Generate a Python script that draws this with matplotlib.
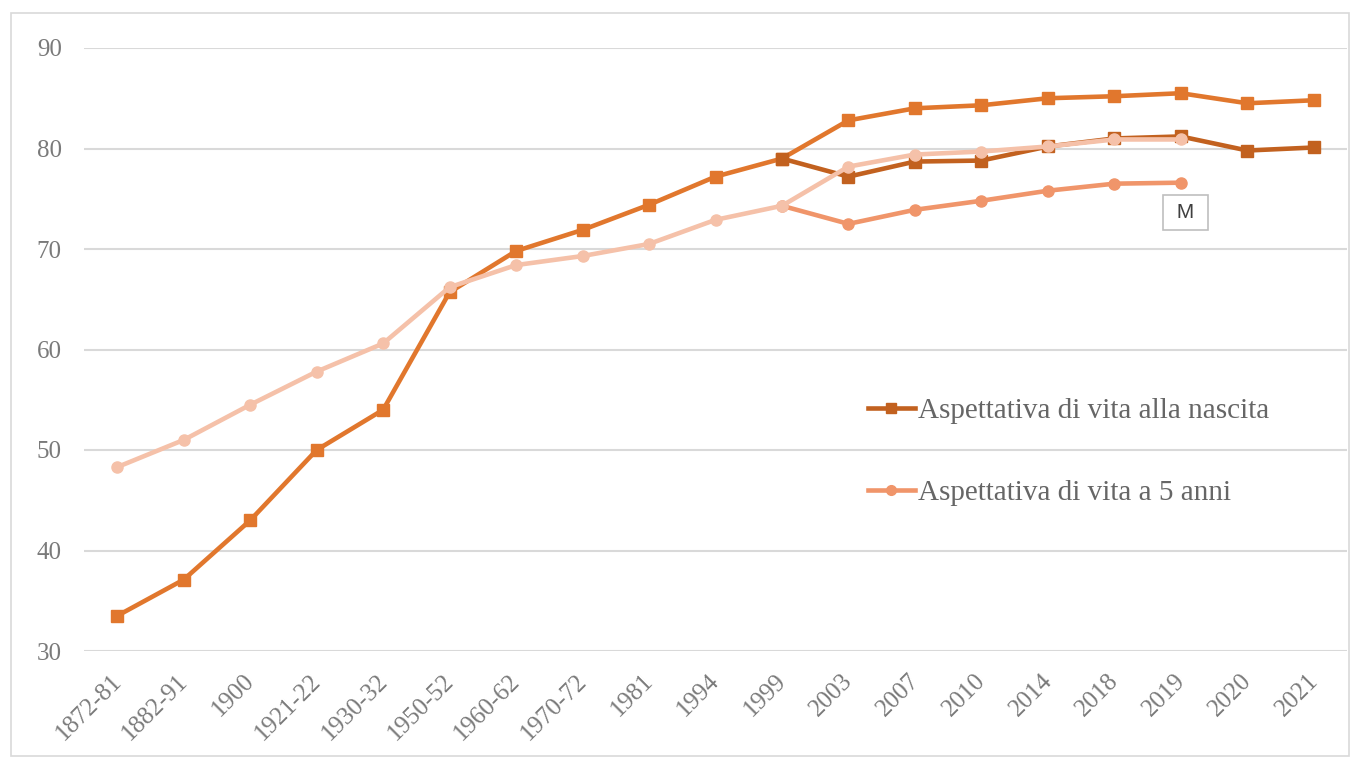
import matplotlib
matplotlib.use("Agg")
from matplotlib import pyplot as plt
from matplotlib.lines import Line2D
from matplotlib.patches import Rectangle
from matplotlib.transforms import ScaledTranslation

categories = ['1872-81', '1882-91', '1900', '1921-22', '1930-32', '1950-52', '1960-62',
              '1970-72', '1981', '1994', '1999', '2003', '2007', '2010', '2014',
              '2018', '2019', '2020', '2021']

# nascita: totale fino al 1999, poi femmine (linea alta) e maschi
nascita = [33.5, 37.1, 43.0, 50.0, 54.0, 65.7, 69.8, 71.9, 74.4, 77.2, 79.0,
           82.8, 84.0, 84.3, 85.0, 85.2, 85.5, 84.5, 84.8]
nascita_m = [79.0, 77.2, 78.7, 78.8, 80.2, 81.0, 81.2, 79.8, 80.1]

# a 5 anni: totale fino al 1999, poi linea alta e linea bassa (fino al 2019)
cinque = [48.3, 51.0, 54.5, 57.8, 60.6, 66.2, 68.4, 69.3, 70.5, 72.9, 74.3,
          78.2, 79.4, 79.7, 80.2, 80.9, 80.9]
cinque_m = [74.3, 72.5, 73.9, 74.8, 75.8, 76.5, 76.6]

c_nasc = '#E1772D'
c_nasc_m = '#C2611F'
c_cinq = '#F5C1A9'
c_cinq_m = '#F0956A'
grey = '#7A7A7A'

fig = plt.figure(figsize=(13.51, 7.58), dpi=100)
fig.patches.append(Rectangle((11/1351, 2/758), 1338/1351, 743/758, transform=fig.transFigure,
                             fill=False, edgecolor='#D9D9D9', lw=1.2))
ax = fig.add_axes([84/1351, 107/758, 1263/1351, 603/758])

x = list(range(len(categories)))
i99 = categories.index('1999')

ax.plot(x, nascita, color=c_nasc, lw=3.3, marker='s', ms=8.5, zorder=3)
ax.plot(x[i99:], nascita_m, color=c_nasc_m, lw=3.3, marker='s', ms=8.5, zorder=4)
ax.plot(x[i99:i99 + len(cinque_m)], cinque_m, color=c_cinq_m, lw=3.3, marker='o', ms=8, zorder=5)
ax.plot(x[:len(cinque)], cinque, color=c_cinq, lw=3.3, marker='o', ms=8, zorder=6)

ax.set_xlim(-0.5, len(categories) - 0.5)
ax.set_ylim(30, 90)
ax.set_yticks(range(30, 91, 10))
ax.grid(axis='y', color='#D9D9D9', lw=1.5)
ax.set_axisbelow(True)
for s in ax.spines.values():
    s.set_visible(False)
ax.tick_params(length=0)
ax.tick_params(axis='y', pad=16)
ax.tick_params(axis='x', pad=8)
ax.set_xticks(x)
ax.set_xticklabels(categories, rotation=45, ha='right', rotation_mode='anchor')
shift = ScaledTranslation(-7/100, -8/100, fig.dpi_scale_trans)
for lab in ax.get_xticklabels():
    lab.set_family('Liberation Serif')
    lab.set_color(grey)
    lab.set_fontsize(18)
    lab.set_transform(lab.get_transform() + shift)
for lab in ax.get_yticklabels():
    lab.set_family('Liberation Serif')
    lab.set_color(grey)
    lab.set_fontsize(18)

handles = [Line2D([], [], color=c_nasc_m, lw=3.3, marker='s', ms=7),
           Line2D([], [], color=c_cinq_m, lw=3.3, marker='o', ms=7)]
ax.legend(handles, ['Aspettativa di vita alla nascita', 'Aspettativa di vita a 5 anni'],
          loc='upper left', bbox_to_anchor=(0.6207, 0.42), frameon=False,
          borderpad=0, borderaxespad=0,
          prop={'family': 'Liberation Serif', 'size': 21}, labelcolor='#666666',
          handlelength=1.6, handletextpad=0.1, labelspacing=1.9)

ax.text(16.07, 73.6, ' M ', family='Liberation Sans', fontsize=15, color='#404040',
        ha='center', va='center',
        bbox=dict(boxstyle='square,pad=0.38', fc='white', ec='#BFBFBF', lw=1.2))

fig.savefig('out.png', dpi=100)
